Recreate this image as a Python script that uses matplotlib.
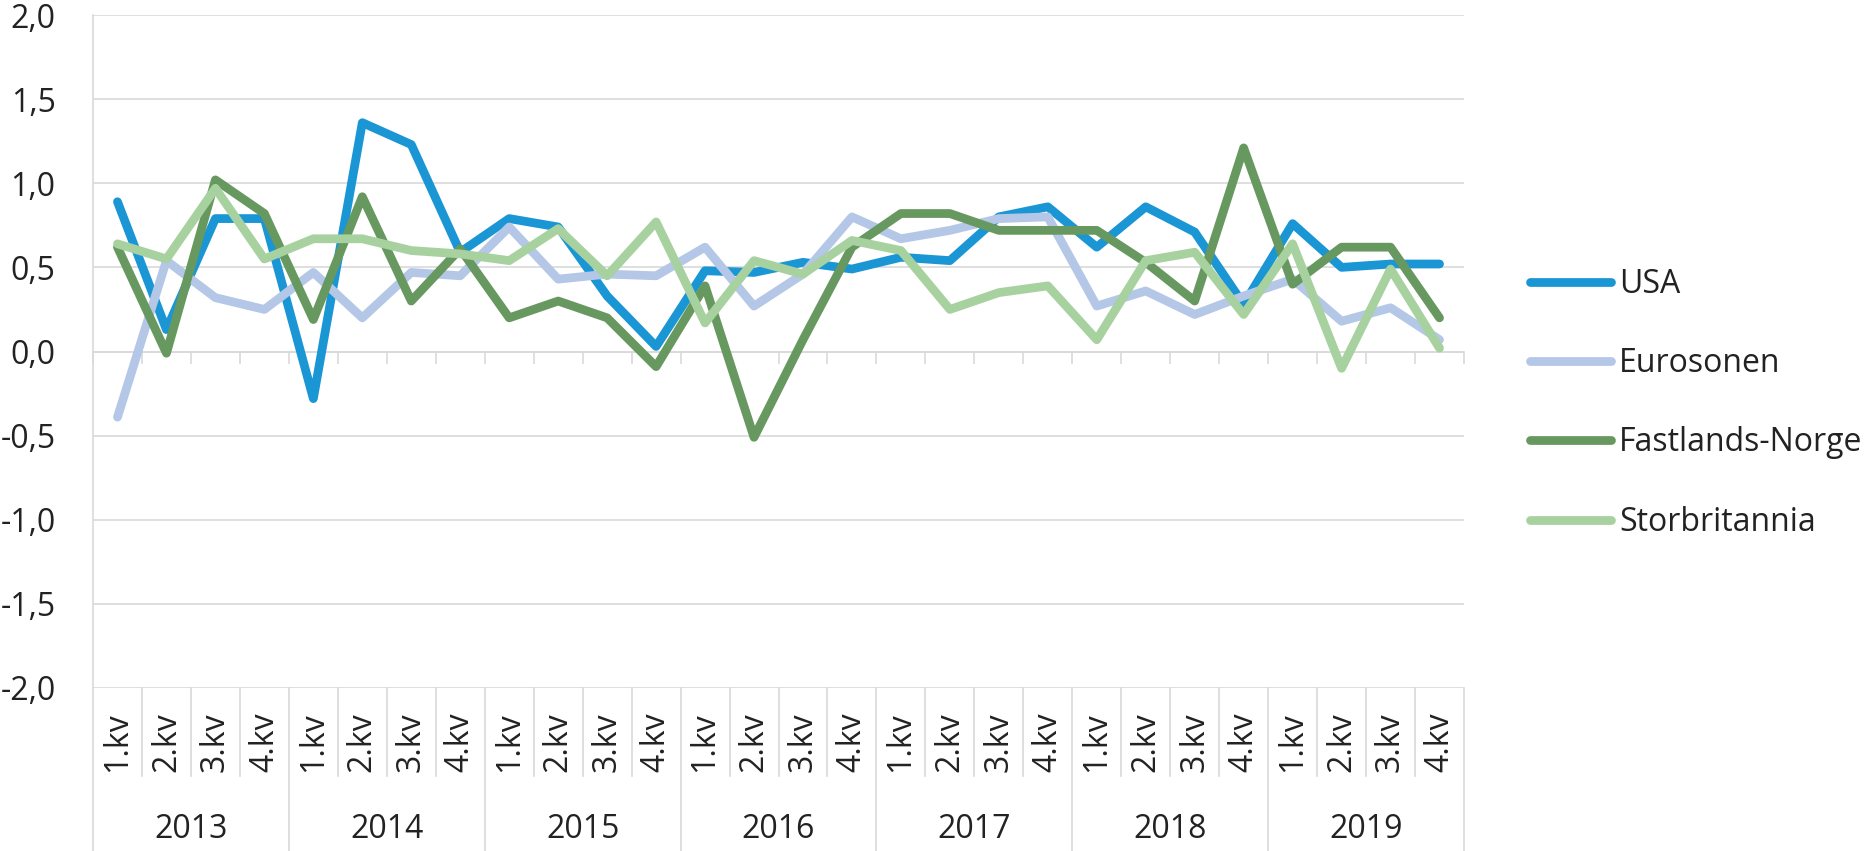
import matplotlib
matplotlib.use("Agg")
import matplotlib.pyplot as plt
import numpy as np
from matplotlib.transforms import blended_transform_factory

plt.rcParams['font.family'] = ['Open Sans', 'DejaVu Sans']

years = ["2013", "2014", "2015", "2016", "2017", "2018", "2019"]
quarters = ["1.kv", "2.kv", "3.kv", "4.kv"]

usa = [0.89, 0.13, 0.79, 0.79, -0.28, 1.36, 1.23, 0.59, 0.79, 0.74, 0.33, 0.03, 0.48, 0.47,
       0.53, 0.49, 0.56, 0.54, 0.80, 0.86, 0.62, 0.86, 0.71, 0.28, 0.76, 0.50, 0.52, 0.52]
eurosonen = [-0.39, 0.54, 0.32, 0.25, 0.47, 0.20, 0.47, 0.45, 0.74, 0.43, 0.46, 0.45, 0.62, 0.27,
             0.46, 0.80, 0.67, 0.72, 0.79, 0.80, 0.27, 0.36, 0.22, 0.33, 0.43, 0.18, 0.26, 0.07]
fastlands = [0.62, -0.01, 1.02, 0.82, 0.19, 0.92, 0.30, 0.61, 0.20, 0.30, 0.20, -0.09, 0.39, -0.51,
             0.07, 0.62, 0.82, 0.82, 0.72, 0.72, 0.72, 0.53, 0.30, 1.21, 0.40, 0.62, 0.62, 0.20]
storbritannia = [0.64, 0.55, 0.97, 0.55, 0.67, 0.67, 0.60, 0.58, 0.54, 0.73, 0.45, 0.77, 0.17, 0.54,
                 0.46, 0.66, 0.60, 0.25, 0.35, 0.39, 0.07, 0.54, 0.59, 0.22, 0.64, -0.10, 0.49, 0.02]

series_names = ["USA", "Eurosonen", "Fastlands-Norge", "Storbritannia"]
series_colors = ["#1a96d5", "#b4c7e7", "#67985f", "#a8d1a0"]

y_ticks = [-2.0, -1.5, -1.0, -0.5, 0.0, 0.5, 1.0, 1.5, 2.0]
y_ticklabels = ["-2,0", "-1,5", "-1,0", "-0,5", "0,0", "0,5", "1,0", "1,5", "2,0"]

W, H = 1871, 851
fig = plt.figure(figsize=(W / 100, H / 100), dpi=100)
left, right, top, bottom = 93, 1464, 15, 688
ax = fig.add_axes([left / W, 1 - bottom / H, (right - left) / W, (bottom - top) / H])

n = len(usa)
x = np.arange(n)
grid_c = "#d9d9d9"
for vals, name, col in zip([usa, eurosonen, fastlands, storbritannia], series_names, series_colors):
    ax.plot(x, vals, color=col, lw=6.3, solid_capstyle='round', solid_joinstyle='round',
            label=name, zorder=3)

ax.set_xlim(-0.5, n - 0.5)
ax.set_ylim(-2, 2)
ax.set_yticks(y_ticks)
ax.set_yticklabels(y_ticklabels)
ax.tick_params(axis='y', length=0, pad=27, labelsize=23, labelcolor="#222222")
ax.grid(axis='y', color=grid_c, lw=1.2, zorder=0)

for s in ['top', 'right']:
    ax.spines[s].set_visible(False)
ax.spines['left'].set_color(grid_c)
ax.spines['left'].set_linewidth(1.2)
ax.spines['bottom'].set_position(('data', 0))
ax.spines['bottom'].set_color(grid_c)
ax.spines['bottom'].set_linewidth(1.2)
ax.set_xticks(np.arange(-0.5, n, 1.0))
ax.set_xticklabels([])
ax.tick_params(axis='x', direction='out', length=8.6, width=1.2, color=grid_c)

# category label area below plot
trans = blended_transform_factory(ax.transData, ax.transAxes)
ah = bottom - top
q_depth = 88 / ah
y_depth = (H - bottom) / ah
for k in range(n + 1):
    xb = k - 0.5
    d = y_depth if k % 4 == 0 else q_depth
    ax.plot([xb, xb], [0, -d], transform=trans, color=grid_c, lw=1.2, clip_on=False, zorder=1)
for i in range(n):
    ax.text(i, -54 / ah, quarters[i % 4], transform=trans, rotation=90, ha='center', va='center',
            fontsize=23, color="#222222", clip_on=False)
for j, yr in enumerate(years):
    ax.text(4 * j + 1.5, -141 / ah, yr, transform=trans, ha='center', va='center',
            fontsize=23, color="#222222", clip_on=False)

leg = fig.legend(loc='upper left', bbox_to_anchor=(1517 / W, 1 - 255 / H), frameon=False,
                 fontsize=23, handlelength=2.55, handletextpad=0.25, labelspacing=1.45,
                 borderaxespad=0, labelcolor="#222222")

fig.savefig("out.png", dpi=100)
